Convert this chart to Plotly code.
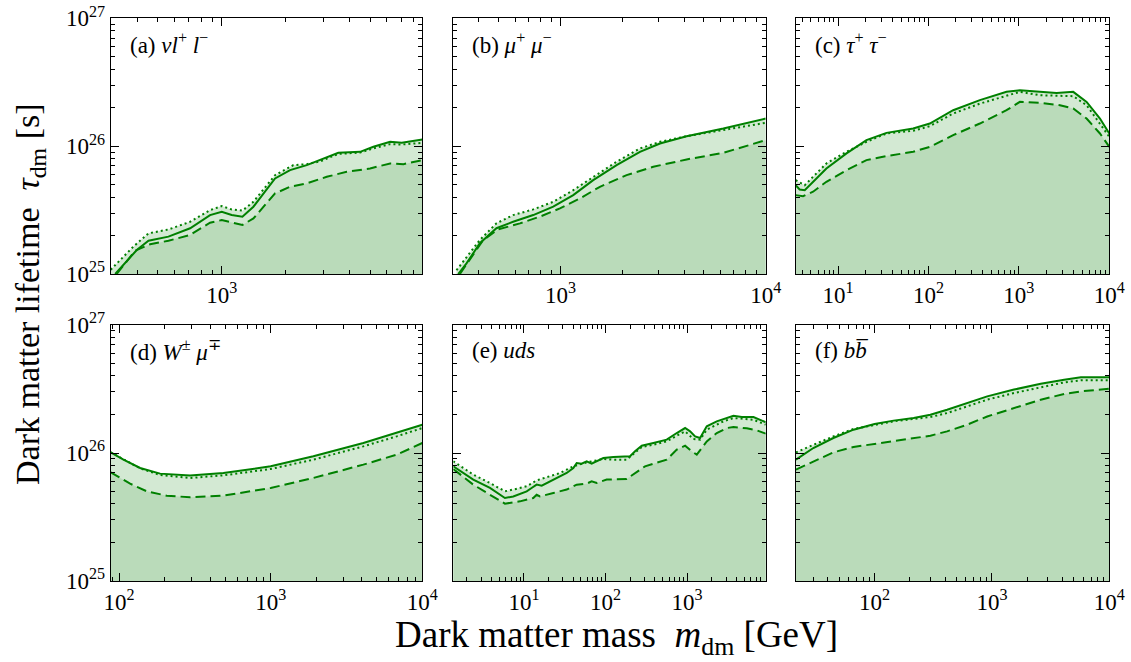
import math
import plotly.graph_objects as go

# ---------------- data ----------------
# (a) nu l+ l-
a_m_solid = [315, 398, 452, 561, 710, 881, 1000, 1114, 1251, 1410, 1783, 2098, 2514, 2904, 3541, 4482, 5179, 6207, 7043, 8810]
a_t_solid = [1.0e25, 1.54e25, 1.82e25, 1.96e25, 2.28e25, 2.89e25, 3.07e25, 2.89e25, 2.81e25, 3.36e25, 5.59e25, 6.49e25, 7.11e25, 7.78e25, 8.87e25, 9.03e25, 9.88e25, 1.081e26, 1.062e26, 1.127e26]
a_m_dot = [300, 384, 452, 561, 710, 881, 1000, 1114, 1251, 1410, 1783, 2175, 2514, 2904, 3541, 4482, 5179, 6207, 7043, 8810]
a_t_dot = [1.08e25, 1.64e25, 2.08e25, 2.23e25, 2.56e25, 3.16e25, 3.40e25, 3.20e25, 3.13e25, 3.67e25, 5.93e25, 7.11e25, 7.23e25, 7.6e25, 8.7e25, 8.9e25, 9.6e25, 1.037e26, 1.03e26, 1.062e26]
a_m_dash = [320, 391, 460, 561, 710, 881, 1000, 1114, 1251, 1410, 1783, 2098, 2514, 3123, 3878, 4995, 6207, 7171, 8810]
a_t_dash = [1.0e25, 1.52e25, 1.71e25, 1.82e25, 2.02e25, 2.52e25, 2.64e25, 2.52e25, 2.42e25, 2.72e25, 4.27e25, 4.81e25, 5.11e25, 5.76e25, 6.30e25, 6.69e25, 7.32e25, 7.23e25, 7.78e25]

# (b) mu+ mu-
b_m_solid = [317, 348, 404, 487, 587, 736, 921, 1153, 1443, 1876, 2438, 3052, 4117, 6216, 10000]
b_t_solid = [1.0e25, 1.21e25, 1.74e25, 2.28e25, 2.56e25, 2.89e25, 3.36e25, 4.14e25, 5.42e25, 7.11e25, 9.03e25, 1.049e26, 1.197e26, 1.374e26, 1.644e26]
b_m_dot = [311, 348, 404, 487, 587, 736, 921, 1153, 1443, 1876, 2438, 3052, 4117, 6216, 10000]
b_t_dot = [1.07e25, 1.365e25, 1.845e25, 2.49e25, 2.89e25, 3.20e25, 3.67e25, 4.53e25, 5.76e25, 7.55e25, 9.59e25, 1.081e26, 1.197e26, 1.334e26, 1.521e26]
b_m_dash = [323, 361, 420, 497, 634, 793, 993, 1243, 1555, 2099, 2832, 4117, 6216, 10000]
b_t_dash = [1.0e25, 1.285e25, 1.845e25, 2.235e25, 2.49e25, 2.81e25, 3.26e25, 3.90e25, 4.81e25, 5.93e25, 6.90e25, 7.87e25, 8.87e25, 1.114e26]

# (c) tau+ tau-
c_m_solid = [3.40, 3.76, 4.28, 5.29, 7.43, 12.4, 20.6, 34.3, 67.7, 103.5, 187.6, 370, 730, 1026, 1708, 2611, 3993, 5610, 7884, 10000]
c_t_solid = [4.95e25, 4.58e25, 4.53e25, 5.26e25, 6.69e25, 8.77e25, 1.114e26, 1.27e26, 1.374e26, 1.503e26, 1.91e26, 2.29e26, 2.66e26, 2.74e26, 2.66e26, 2.61e26, 2.66e26, 2.22e26, 1.644e26, 1.256e26]
c_m_dot = [3.40, 4.28, 5.29, 7.43, 12.4, 20.6, 34.3, 67.7, 103.5, 187.6, 370, 730, 1026, 1708, 3993, 5610, 7884, 10000]
c_t_dot = [5.42e25, 4.95e25, 5.76e25, 7.32e25, 9.03e25, 1.081e26, 1.256e26, 1.318e26, 1.432e26, 1.80e26, 2.15e26, 2.50e26, 2.66e26, 2.50e26, 2.46e26, 2.09e26, 1.503e26, 1.183e26]
c_m_dash = [3.40, 4.10, 5.29, 7.43, 12.4, 20.6, 34.3, 67.7, 103.5, 187.6, 370, 730, 1026, 1708, 2843, 3993, 5610, 7884, 10000]
c_t_dash = [4.14e25, 4.06e25, 4.40e25, 5.26e25, 6.49e25, 7.78e25, 8.36e25, 9.03e25, 9.88e25, 1.219e26, 1.503e26, 1.91e26, 2.22e26, 2.18e26, 2.09e26, 1.97e26, 1.644e26, 1.256e26, 9.88e25]

# (d) W+- mu-+
d_m_solid = [88.1, 106.8, 137.6, 186.4, 293.8, 487.5, 1000, 1911, 4083, 6780, 10000]
d_t_solid = [1.012e26, 8.87e25, 7.64e25, 6.90e25, 6.66e25, 6.98e25, 7.87e25, 9.42e25, 1.197e26, 1.432e26, 1.664e26]
d_m_dot = [88.1, 137.6, 186.4, 293.8, 487.5, 1000, 1911, 4083, 6780, 10000]
d_t_dot = [1.012e26, 7.59e25, 6.73e25, 6.38e25, 6.69e25, 7.50e25, 8.87e25, 1.127e26, 1.349e26, 1.567e26]
d_m_dash = [88.1, 118.2, 152.2, 206.2, 293.8, 487.5, 1000, 1911, 4083, 6780, 10000]
d_t_dash = [7.06e25, 5.76e25, 5.02e25, 4.64e25, 4.51e25, 4.64e25, 5.33e25, 6.38e25, 8.11e25, 9.70e25, 1.197e26]

# (e) uds
e_m_solid = [1.358, 2.39, 3.83, 5.84, 7.40, 9.36, 10.8, 12.4, 14.3, 16.5, 20.8, 27.7, 33.4, 40.3, 44.3, 51.0, 58.7, 67.6, 77.9, 94.0,
             124.8, 157.8, 199.8, 230, 278, 386, 563, 747, 945, 1089, 1254, 1443, 1743, 2311, 2791, 3702, 4687, 6513, 9230]
e_t_solid = [7.87e25, 6.20e25, 5.33e25, 4.45e25, 4.58e25, 4.87e25, 5.02e25, 5.33e25, 5.66e25, 5.56e25, 6.01e25, 6.58e25, 6.98e25, 7.64e25, 8.36e25, 8.26e25, 8.61e25, 8.26e25, 8.61e25, 9.14e25,
             9.31e25, 9.42e25, 9.42e25, 1.030e26, 1.141e26, 1.197e26, 1.271e26, 1.432e26, 1.567e26, 1.476e26, 1.349e26, 1.310e26, 1.615e26, 1.767e26, 1.844e26, 1.957e26, 1.911e26, 1.911e26, 1.738e26]
e_m_dot = [1.358, 2.39, 3.83, 5.84, 7.40, 10.8, 14.3, 20.8, 27.7, 40.3, 58.7, 94.0, 124.8, 181.8, 278, 386, 563, 747, 945, 1196, 1443, 1743, 2791, 3702, 6513, 9230]
e_t_dot = [8.61e25, 6.78e25, 5.83e25, 5.02e25, 5.18e25, 5.50e25, 6.11e25, 6.58e25, 6.98e25, 7.87e25, 8.45e25, 8.98e25, 8.87e25, 8.87e25, 1.114e26, 1.161e26, 1.233e26, 1.365e26, 1.476e26, 1.285e26, 1.271e26, 1.521e26, 1.767e26, 1.876e26, 1.82e26, 1.664e26]
e_m_dash = [1.358, 2.39, 3.83, 5.84, 8.93, 13.0, 14.3, 15.7, 22.9, 33.4, 44.3, 58.7, 67.6, 77.9, 103.3, 181.8, 305, 563, 747, 945,
            1141, 1314, 1513, 1743, 2311, 3069, 3702, 5396, 7161, 9230]
e_t_dash = [7.50e25, 5.66e25, 4.72e25, 4.02e25, 4.19e25, 4.45e25, 4.72e25, 4.58e25, 4.87e25, 5.18e25, 5.66e25, 5.76e25, 6.01e25, 5.83e25, 6.20e25, 6.27e25, 7.87e25, 8.87e25, 1.062e26, 1.141e26,
            1.030e26, 9.70e25, 1.094e26, 1.233e26, 1.432e26, 1.567e26, 1.596e26, 1.558e26, 1.503e26, 1.416e26]

# (f) b bbar
f_m = [21.4, 30.1, 44.6, 66.2, 100, 145.3, 215.4, 299, 415, 615, 912, 1541, 2606, 4124, 5725, 10000]
f_t_solid = [8.87e25, 1.094e26, 1.310e26, 1.521e26, 1.685e26, 1.79e26, 1.876e26, 1.99e26, 2.18e26, 2.46e26, 2.77e26, 3.13e26, 3.48e26, 3.74e26, 3.90e26, 3.90e26]
f_t_dot = [1.012e26, 1.161e26, 1.349e26, 1.54e26, 1.664e26, 1.767e26, 1.844e26, 1.91e26, 2.05e26, 2.32e26, 2.61e26, 2.94e26, 3.28e26, 3.56e26, 3.70e26, 3.70e26]
f_t_dash = [7.41e25, 8.61e25, 1.012e26, 1.114e26, 1.175e26, 1.248e26, 1.310e26, 1.365e26, 1.476e26, 1.664e26, 1.93e26, 2.25e26, 2.61e26, 2.89e26, 3.03e26, 3.18e26]

panel_labels = [
    "(a) <i>νl</i><sup>+</sup> <i>l</i><sup>−</sup>",
    "(b) <i>μ</i><sup>+</sup> <i>μ</i><sup>−</sup>",
    "(c) <i>τ</i><sup>+</sup> <i>τ</i><sup>−</sup>",
    "(d) <i>W</i><sup>±</sup> <i>μ</i><sup>∓</sup>",
    "(e) <i>uds</i>",
    "(f) <i>b</i><i>b\u0305</i>",
]
x_ranges = [(300.0, 8800.0), (300.0, 10000.0), (3.4, 10000.0), (88.0, 10000.0), (1.36, 9200.0), (21.3, 10000.0)]
y_range = (1e25, 1e27)

panels = [
    (a_m_solid, a_t_solid, a_m_dot, a_t_dot, a_m_dash, a_t_dash),
    (b_m_solid, b_t_solid, b_m_dot, b_t_dot, b_m_dash, b_t_dash),
    (c_m_solid, c_t_solid, c_m_dot, c_t_dot, c_m_dash, c_t_dash),
    (d_m_solid, d_t_solid, d_m_dot, d_t_dot, d_m_dash, d_t_dash),
    (e_m_solid, e_t_solid, e_m_dot, e_t_dot, e_m_dash, e_t_dash),
    (f_m, f_t_solid, f_m, f_t_dot, f_m, f_t_dash),
]

# ---------------- styling ----------------
GREEN = "#008000"
LIGHT = "#d3e9d3"
DARK = "#badbba"
FONT = "Liberation Serif"
BASE = 1e20

W, H = 1131, 662
col_px = [(110.7, 422.3), (453.3, 765.7), (795.7, 1109.3)]
row_px = [(18.3, 274.0), (325.0, 581.0)]

fig = go.Figure()


def poly(xs, ys):
    return list(xs) + [xs[-1], xs[0]], list(ys) + [BASE, BASE]


def minor_vals(lo, hi):
    out = []
    for p in range(int(math.floor(math.log10(lo))) - 1, int(math.ceil(math.log10(hi))) + 1):
        for k in range(2, 10):
            v = float(k) * 10.0 ** p
            if lo <= v <= hi:
                out.append(v)
    return out


def major_vals(lo, hi):
    out = []
    for p in range(int(math.floor(math.log10(lo))) - 1, int(math.ceil(math.log10(hi))) + 1):
        v = 10.0 ** p
        if lo * 0.999 <= v <= hi * 1.001:
            out.append(v)
    return out


layout_axes = {}
annotations = []
for i, (ms, ts, md, td, mdd, tdd) in enumerate(panels):
    r, c = divmod(i, 3)
    xa = "x" if i == 0 else f"x{i+1}"
    ya = "y" if i == 0 else f"y{i+1}"
    # fills
    for mm, tt, col in [(md, td, LIGHT), (ms, ts, LIGHT), (mdd, tdd, DARK)]:
        px_, py_ = poly(mm, tt)
        fig.add_trace(go.Scatter(x=px_, y=py_, fill="toself", fillcolor=col, mode="lines",
                                 line=dict(width=0, color=col), xaxis=xa, yaxis=ya,
                                 hoverinfo="skip", showlegend=False))
    # lines
    fig.add_trace(go.Scatter(x=md, y=td, mode="lines", line=dict(color=GREEN, width=2, dash="2px,3px"),
                             xaxis=xa, yaxis=ya, showlegend=False))
    fig.add_trace(go.Scatter(x=ms, y=ts, mode="lines", line=dict(color=GREEN, width=2),
                             xaxis=xa, yaxis=ya, showlegend=False))
    fig.add_trace(go.Scatter(x=mdd, y=tdd, mode="lines", line=dict(color=GREEN, width=2, dash="10px,5px"),
                             xaxis=xa, yaxis=ya, showlegend=False))

    x0, x1 = col_px[c]
    y0, y1 = row_px[r]
    xlo, xhi = x_ranges[i]
    xmaj = major_vals(xlo, xhi)
    ymaj = major_vals(*y_range)
    common = dict(type="log", showline=True, linecolor="black", linewidth=1, mirror="allticks",
                  ticks="inside", ticklen=8, tickwidth=1, tickcolor="black", showgrid=False,
                  zeroline=False, automargin=False,
                  tickfont=dict(family=FONT, size=23, color="black"))
    layout_axes["xaxis" if i == 0 else f"xaxis{i+1}"] = dict(
        common, domain=[x0 / W, x1 / W], anchor=ya,
        range=[math.log10(xlo), math.log10(xhi)],
        tickmode="array", tickvals=xmaj,
        ticktext=[f"10<sup>{round(math.log10(v))}</sup>" for v in xmaj],
        minor=dict(tickmode="array", tickvals=minor_vals(xlo, xhi), ticks="inside", ticklen=4,
                   tickcolor="black", tickwidth=1, showgrid=False),
    )
    layout_axes["yaxis" if i == 0 else f"yaxis{i+1}"] = dict(
        common, domain=[1 - y1 / H, 1 - y0 / H], anchor=xa,
        range=[math.log10(y_range[0]), math.log10(y_range[1])],
        tickmode="array", tickvals=ymaj,
        ticktext=[f"10<sup>{round(math.log10(v))}</sup>" for v in ymaj],
        showticklabels=(c == 0),
        minor=dict(tickmode="array", tickvals=minor_vals(*y_range), ticks="inside", ticklen=4,
                   tickcolor="black", tickwidth=1, showgrid=False),
    )
    annotations.append(dict(text=panel_labels[i], xref=f"{xa} domain", yref=f"{ya} domain",
                            x=0.055, y=0.90, xanchor="left", yanchor="middle", showarrow=False,
                            font=dict(family=FONT, size=23, color="black")))

annotations.append(dict(text="Dark matter mass\u2002<i>m</i><sub>dm</sub> [GeV]", xref="paper", yref="paper",
                        x=616 / W, y=1 - 637 / H, xanchor="center", yanchor="middle", showarrow=False,
                        font=dict(family=FONT, size=37, color="black")))
annotations.append(dict(text="Dark matter lifetime\u2002<i>τ</i><sub>dm</sub> [s]", xref="paper", yref="paper",
                        x=30 / W, y=1 - 294 / H, xanchor="center", yanchor="middle", showarrow=False,
                        textangle=-90, font=dict(family=FONT, size=34, color="black")))

fig.update_layout(width=W, height=H, margin=dict(l=0, r=0, t=0, b=0, autoexpand=False),
                  paper_bgcolor="white", plot_bgcolor="white",
                  annotations=annotations, showlegend=False, **layout_axes)

fig.write_html("out.html", config={"displayModeBar": False},
               post_script="document.body.style.margin='0';document.body.style.padding='0';")
